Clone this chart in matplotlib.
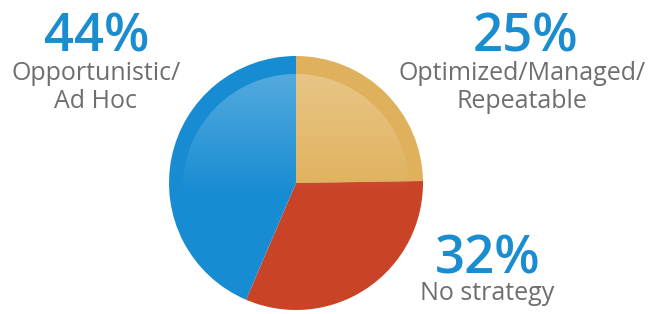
import numpy as np
import matplotlib.pyplot as plt
from matplotlib.patches import Circle

# data
shares = [25, 32, 44]
pct_labels = ['25%', '32%', '44%']
names = ['Optimized/Managed/\nRepeatable', 'No strategy', 'Opportunistic/\nAd Hoc']
colors = ['#e0b15c', '#c94327', '#178cd2']

W, H = 657, 314
blue = '#1a8dd1'
gray = '#6d6e71'

fig = plt.figure(figsize=(6.57, 3.14), dpi=100)
ax = fig.add_axes([0, 0, 1, 1])

cx, cy, r = 296, H - 183, 127
ax.pie(shares, colors=colors, startangle=90, counterclock=False,
       center=(cx, cy), radius=r, wedgeprops=dict(linewidth=0))

# glossy highlight on the upper half
t = np.linspace(0, 1, 256)
grad = np.ones((256, 2, 4))
grad[..., 3] = np.clip(0.30 * (1 - t / 0.55), 0, None)[:, None]
im = ax.imshow(grad, extent=(cx - r, cx + r, cy - r, cy + r), origin='upper',
               interpolation='bilinear', aspect='auto', zorder=5)
im.set_clip_path(Circle((cx, cy - 4), r - 14, transform=ax.transData))

ax.set_xlim(0, W)
ax.set_ylim(0, H)
ax.set_aspect('equal')
ax.axis('off')

big = dict(fontsize=38, weight='semibold', color=blue, ha='center',
           va='baseline', family='Open Sans')
small = dict(fontsize=18, color=gray, ha='center', va='baseline',
             family='Open Sans', linespacing=1.15)

# labels
ax.text(97, H - 51, pct_labels[2], **big)
ax.text(96, H - 108, names[2], **small)
ax.text(525, H - 52, pct_labels[0], **big)
ax.text(522, H - 108, names[0], **small)
ax.text(488, H - 274, pct_labels[1], **big)
ax.text(487, H - 300, names[1], **small)

fig.savefig('out.png', dpi=100)
